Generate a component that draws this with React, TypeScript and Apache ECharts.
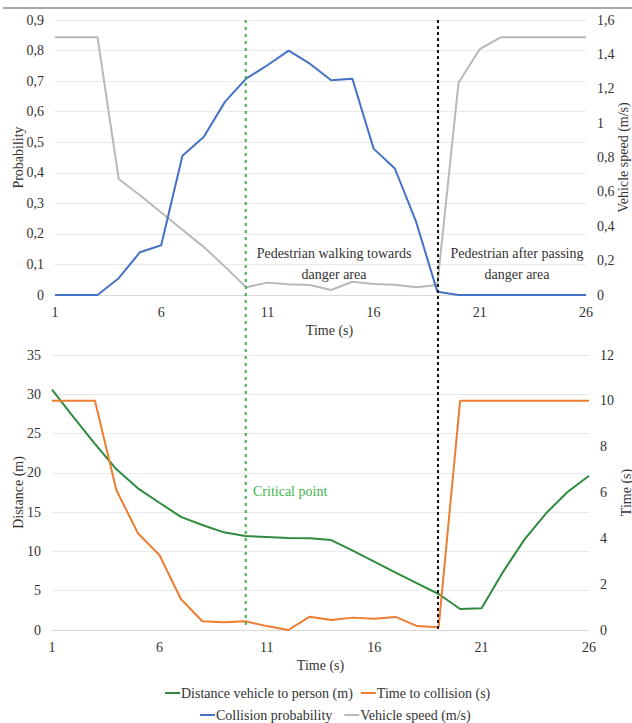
import React, { useEffect, useRef } from "react";
import * as echarts from "echarts";

const times = ["1","2","3","4","5","6","7","8","9","10","11","12","13","14","15","16","17","18","19","20","21","22","23","24","25","26"];
const collisionProbability = [0, 0, 0, 0.055, 0.14, 0.163, 0.456, 0.517, 0.632, 0.708, 0.752, 0.8, 0.757, 0.703, 0.708, 0.479, 0.414, 0.24, 0.011, 0, 0, 0, 0, 0, 0, 0];
const vehicleSpeed = [1.5, 1.5, 1.5, 0.675, 0.58, 0.48, 0.38, 0.28, 0.165, 0.045, 0.072, 0.062, 0.058, 0.029, 0.077, 0.064, 0.06, 0.045, 0.058, 1.235, 1.431, 1.5, 1.5, 1.5, 1.5, 1.5];
const distance = [30.6, 27.1, 23.7, 20.45, 18.03, 16.2, 14.4, 13.36, 12.43, 11.96, 11.84, 11.7, 11.67, 11.45, 10.1, 8.7, 7.3, 5.94, 4.58, 2.67, 2.76, 7.4, 11.54, 14.85, 17.56, 19.64];
const timeToCollision = [10, 10, 10, 6.1, 4.22, 3.27, 1.35, 0.38, 0.34, 0.38, 0.17, 0, 0.58, 0.44, 0.54, 0.49, 0.57, 0.17, 0.12, 10, 10, 10, 10, 10, 10, 10];
const criticalTime = "10";
const crossingTime = "19";

const FONT = "'Times New Roman', 'Liberation Serif', serif";
const TXT = "#333333";
const GRID = "#e9e9e9";
const LEGEND_ICON = "path://M0,0 L15,0 L15,2 L0,2 Z";

const fmt = (v: number) => String(+Number(v).toFixed(1)).replace(".", ",");

export default function App() {
  const ref = useRef<HTMLDivElement>(null);
  useEffect(() => {
    document.body.style.margin = "0";
    const chart = echarts.init(ref.current!, null, { renderer: "svg" });
    const ts = { fontFamily: FONT, fontSize: 14, color: TXT };
    const xAxisBase = (gridIndex: number, padLeft: number) => ({
      type: "category",
      gridIndex,
      data: times,
      boundaryGap: false,
      axisLine: { lineStyle: { color: "#d9d9d9" } },
      axisTick: { show: false },
      axisLabel: { ...ts, interval: 4, margin: 10 },
      splitLine: { show: false },
      name: "Time (s)",
      nameLocation: "middle",
      nameGap: 28,
      nameMoveOverlap: false,
      nameTextStyle: { ...ts, padding: [0, 0, 0, padLeft] },
    });
    const yAxisBase = (gridIndex: number, name: string, max: number, interval: number, pos: string, gap: number, grid: boolean) => ({
      type: "value",
      gridIndex,
      position: pos,
      min: 0,
      max,
      interval,
      name,
      nameLocation: "middle",
      nameRotate: 90,
      nameGap: gap,
      nameMoveOverlap: false,
      nameTextStyle: ts,
      axisLine: { show: false },
      axisTick: { show: false },
      axisLabel: { ...ts, margin: 11, formatter: fmt },
      splitLine: { show: grid, lineStyle: { color: GRID, width: 1 } },
    });
    const lineSeries = (name: string, data: number[], color: string, xi: number, yi: number) => ({
      type: "line",
      name,
      data,
      xAxisIndex: xi,
      yAxisIndex: yi,
      symbol: "none",
      lineStyle: { color, width: 2 },
      itemStyle: { color },
      z: 3,
    });
    const legendBase = { itemWidth: 15, itemHeight: 2, icon: LEGEND_ICON, textStyle: { ...ts, padding: [0, 0, 0, -4] } };
    const option: any = {
      animation: false,
      grid: [
        { left: 55, right: 46, top: 20, height: 275, outerBoundsMode: "none", containLabel: false },
        { left: 52, right: 43, top: 355, height: 275, outerBoundsMode: "none", containLabel: false },
      ],
      xAxis: [xAxisBase(0, 18), xAxisBase(1, 0)],
      yAxis: [
        yAxisBase(0, "Probability", 0.9, 0.1, "left", 30, true),
        yAxisBase(0, "Vehicle speed (m/s)", 1.6, 0.2, "right", 30, false),
        yAxisBase(1, "Distance (m)", 35, 5, "left", 27, true),
        yAxisBase(1, "Time (s)", 12, 2, "right", 30, false),
      ],
      legend: [
        { ...legendBase, left: 160, top: 681, itemGap: 8, data: ["Distance vehicle to person (m)", "Time to collision (s)"] },
        { ...legendBase, left: 195, top: 703, itemGap: 12, data: ["Collision probability", "Vehicle speed (m/s)"] },
      ],
      series: [
        lineSeries("Vehicle speed (m/s)", vehicleSpeed, "#b8b8b8", 0, 1),
        lineSeries("Collision probability", collisionProbability, "#4472c4", 0, 0),
        lineSeries("Distance vehicle to person (m)", distance, "#2e8b3e", 1, 2),
        lineSeries("Time to collision (s)", timeToCollision, "#ed7d31", 1, 3),
      ],
    };
    chart.setOption(option);
    const xAt = (t: string) =>
      ((chart.convertToPixel({ xAxisIndex: 0 }, t) as number) + (chart.convertToPixel({ xAxisIndex: 1 }, t) as number)) / 2;
    const xc = xAt(criticalTime);
    const xp = xAt(crossingTime);
    chart.setOption({
      graphic: [
        { type: "line", shape: { x1: 3, y1: 8, x2: 632, y2: 8 }, style: { stroke: "#8a8a8a", lineWidth: 1.5 } },
        { type: "line", z: 10, shape: { x1: xc, y1: 20, x2: xc, y2: 629 }, style: { stroke: "#3cb44b", lineWidth: 2, lineDash: [3, 4] } },
        { type: "line", z: 10, shape: { x1: xp, y1: 20, x2: xp, y2: 629 }, style: { stroke: "#111111", lineWidth: 2, lineDash: [3, 3] } },
        {
          type: "text", x: 334, y: 264, z: 11,
          style: { text: "Pedestrian walking towards\ndanger area", fontFamily: FONT, fontSize: 14, fill: TXT, align: "center", verticalAlign: "middle", lineHeight: 21 },
        },
        {
          type: "text", x: 517, y: 264, z: 11,
          style: { text: "Pedestrian after passing\ndanger area", fontFamily: FONT, fontSize: 14, fill: TXT, align: "center", verticalAlign: "middle", lineHeight: 21 },
        },
        {
          type: "text", x: 253, y: 491, z: 11,
          style: { text: "Critical point", fontFamily: FONT, fontSize: 14, fill: "#3cb44b", align: "left", verticalAlign: "middle" },
        },
      ],
    });
    return () => chart.dispose();
  }, []);
  return <div ref={ref} style={{ width: 632, height: 723 }} />;
}
